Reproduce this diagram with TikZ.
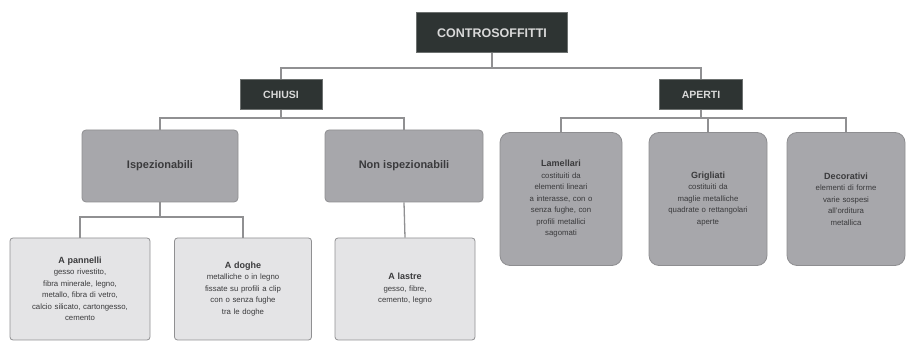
\documentclass[tikz,border=0pt]{standalone}
\usepackage{fontspec}
\setmainfont{Liberation Sans}
\definecolor{darkbox}{HTML}{2E3433}
\definecolor{midbox}{HTML}{A7A7AB}
\definecolor{lightbox}{HTML}{E4E4E6}
\definecolor{linecol}{HTML}{909092}
\definecolor{txt}{HTML}{3A3A3C}
\newcommand{\hd}[1]{{\bfseries\fontsize{9}{12}\selectfont #1}}
\tikzset{
  topbox/.style={fill=darkbox, draw=darkbox!70!white, line width=1pt, text=white!85!black, font=\bfseries\fontsize{12.5}{14}\selectfont, align=center},
  catbox/.style={fill=midbox, draw=midbox!85!black, line width=0.8pt, rounded corners=4pt, text=txt, font=\bfseries\fontsize{11}{13}\selectfont, align=center},
  rbox/.style={fill=midbox, draw=midbox!85!black, line width=0.8pt, rounded corners=10pt, text=txt, font=\fontsize{7.8}{11.5}\selectfont, align=center, text width=#1},
  lbox/.style={fill=lightbox, draw=linecol, line width=0.8pt, rounded corners=3pt, text=txt, font=\fontsize{7.8}{11.5}\selectfont, align=center, text width=#1},
  conn/.style={draw=linecol, line width=1.3pt}
}
\begin{document}
\begin{tikzpicture}[x=1pt,y=-1pt]
\useasboundingbox (0,0) rectangle (908,347);
% top
\node[topbox, minimum width=151pt, minimum height=40pt] (top) at (492,33) {CONTROSOFFITTI};
\node[topbox, minimum width=82pt, minimum height=30pt, font=\bfseries\fontsize{10.5}{12}\selectfont] (chiusi) at (281,95) {CHIUSI};
\node[topbox, minimum width=83pt, minimum height=30pt, font=\bfseries\fontsize{10.5}{12}\selectfont] (aperti) at (701,95) {APERTI};
% level 3 left
\node[catbox, minimum width=156pt, minimum height=72pt] (isp) at (160,166) {Ispezionabili};
\node[catbox, minimum width=158pt, minimum height=72pt] (nonisp) at (404,166) {Non ispezionabili};
% right boxes
\node[rbox=104pt, minimum width=122pt, minimum height=133pt] (r1) at (561,199) {\hd{Lamellari}\\costituiti da\\elementi lineari\\a interasse, con o\\senza fughe, con\\profili metallici\\sagomati};
\node[rbox=104pt, minimum width=118pt, minimum height=133pt] (r2) at (708,199) {\hd{Grigliati}\\costituiti da\\maglie metalliche\\quadrate o rettangolari\\aperte};
\node[rbox=104pt, minimum width=118pt, minimum height=133pt] (r3) at (846,199) {\hd{Decorativi}\\elementi di forme\\varie sospesi\\all'orditura\\metallica};
% bottom boxes
\node[lbox=130pt, minimum width=140pt, minimum height=102pt] (b1) at (80,289) {\hd{A pannelli}\\gesso rivestito,\\fibra minerale, legno,\\metallo, fibra di vetro,\\calcio silicato, cartongesso,\\cemento};
\node[lbox=127pt, minimum width=137pt, minimum height=102pt] (b2) at (243,289) {\hd{A doghe}\\metalliche o in legno\\fissate su profili a clip\\con o senza fughe\\tra le doghe};
\node[lbox=130pt, minimum width=140pt, minimum height=102pt] (b3) at (405,289) {\hd{A lastre}\\gesso, fibre,\\cemento, legno};
% connectors
\coordinate (bus1) at (492,68);
\draw[conn] (top.south) -- (bus1);
\draw[conn] (chiusi.north) |- (bus1) -| (aperti.north);
\coordinate (bus2) at (281,118);
\draw[conn] (chiusi.south) -- (bus2);
\draw[conn] (isp.north) |- (bus2) -| (nonisp.north);
\coordinate (bus3) at (701,118);
\draw[conn] (aperti.south) -- (bus3);
\draw[conn] (r1.north) |- (bus3) -| (r3.north);
\draw[conn] (r2.north) -- (r2.north |- bus3);
\coordinate (bus4) at (160,217);
\draw[conn] (isp.south) -- (bus4);
\draw[conn] (b1.north) |- (bus4) -| (b2.north);
\draw[conn] (nonisp.south) -- (b3.north);
\end{tikzpicture}
\end{document}
